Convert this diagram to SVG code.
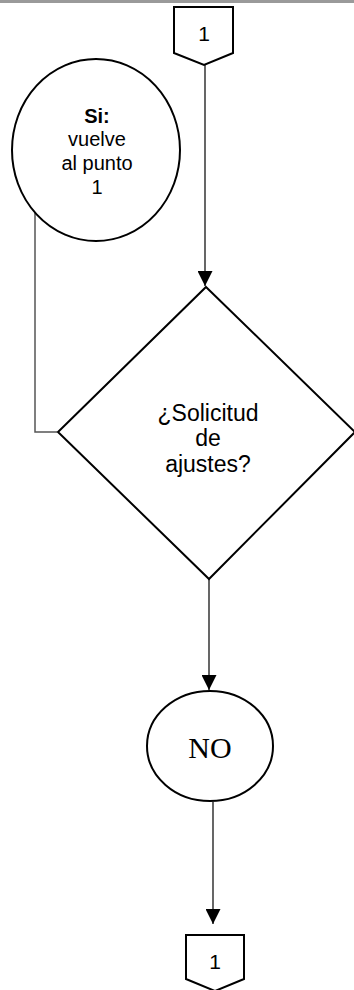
<svg xmlns="http://www.w3.org/2000/svg" width="354" height="990" viewBox="0 0 354 990">
  <style>
    .shape { fill: #fff; stroke: #000; stroke-width: 2; }
    .edge { fill: none; stroke: #000; stroke-width: 1.2; }
    .loop { fill: none; stroke: #555; stroke-width: 1.5; }
    .sans { font-family: "Liberation Sans", Arial, sans-serif; fill: #000; text-anchor: middle; }
    .serif { font-family: "Liberation Serif", "Times New Roman", serif; fill: #000; text-anchor: middle; }
  </style>
  <defs>
    <marker id="arrow" markerWidth="15" markerHeight="15" refX="15" refY="7.5" orient="auto" markerUnits="userSpaceOnUse">
      <path d="M0,0 L15,7.5 L0,15 Z" fill="#000"/>
    </marker>
  </defs>

  <!-- top rule -->
  <rect x="0" y="0" width="354" height="3" fill="#9a9a9a"/>

  <g id="connectors">
    <line class="edge" x1="205" y1="65" x2="205" y2="286" marker-end="url(#arrow)"/>
    <line class="edge" x1="209" y1="579" x2="209" y2="690" marker-end="url(#arrow)"/>
    <line class="edge" x1="213" y1="802" x2="213" y2="924" marker-end="url(#arrow)"/>
    <polyline class="loop" points="35,213 35,432 57,432"/>
  </g>

  <g id="ref-top">
    <path class="shape" d="M174,7 H233 V53 L204,65 L174,53 Z"/>
    <text class="sans" x="204" y="41" font-size="21">1</text>
  </g>

  <g id="si-vuelve">
    <ellipse class="shape" cx="96" cy="150" rx="84" ry="91"/>
    <text class="sans" x="97" y="123" font-size="20" font-weight="bold">Si:</text>
    <text class="sans" x="97" y="146" font-size="20">vuelve</text>
    <text class="sans" x="97" y="170" font-size="20">al punto</text>
    <text class="sans" x="97" y="194" font-size="20">1</text>
  </g>

  <g id="solicitud">
    <path class="shape" d="M206,287 L355,432 L209,579 L58,432 Z"/>
    <text class="sans" x="208" y="421" font-size="23">¿Solicitud</text>
    <text class="sans" x="208" y="446" font-size="23">de</text>
    <text class="sans" x="208" y="472" font-size="23">ajustes?</text>
  </g>

  <g id="no">
    <ellipse class="shape" cx="210" cy="746" rx="63" ry="55"/>
    <text class="serif" x="210" y="758" font-size="30">NO</text>
  </g>

  <g id="ref-bottom">
    <path class="shape" d="M186,935 H244 V979 L215,991 L186,979 Z"/>
    <text class="sans" x="215" y="969" font-size="21">1</text>
  </g>
</svg>
